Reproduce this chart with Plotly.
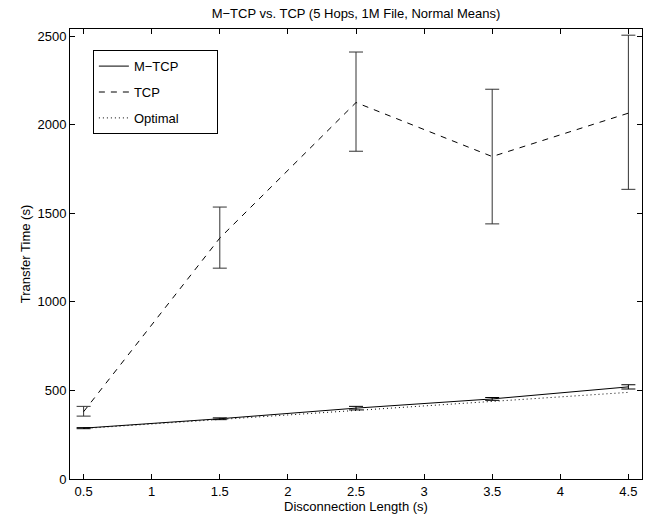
import plotly.graph_objects as go

x_vals = [0.5, 1.5, 2.5, 3.5, 4.5]
x_ticks = [0.5, 1, 1.5, 2, 2.5, 3, 3.5, 4, 4.5]
x_tick_labels = ["0.5", "1", "1.5", "2", "2.5", "3", "3.5", "4", "4.5"]
y_ticks = [0, 500, 1000, 1500, 2000, 2500]
series_names = ["M\u2212TCP", "TCP", "Optimal"]

mtcp = [287, 340, 400, 452, 520]
mtcp_err_up = [3, 5, 10, 8, 12]
mtcp_err_down = [3, 5, 10, 8, 12]

tcp = [380, 1360, 2125, 1820, 2065]
tcp_err_up = [30, 175, 285, 380, 440]
tcp_err_down = [25, 170, 275, 380, 430]

optimal = [285, 336, 387, 438, 489]

FONT = "Liberation Sans, Arial, Helvetica, sans-serif"
FS = 13
# invisible spacer that widens the legend box like the reference
PAD = "<span style='color:rgba(255,255,255,0)'>xxxxx</span>"

fig = go.Figure()
fig.add_trace(go.Scatter(
    x=x_vals, y=mtcp, mode="lines", name=series_names[0],
    line=dict(color="black", width=1, dash="solid"),
    error_y=dict(type="data", array=mtcp_err_up, arrayminus=mtcp_err_down,
                 color="black", thickness=1, width=7),
    legendgroup="a",
))
fig.add_trace(go.Scatter(
    x=x_vals, y=tcp, mode="lines", name=series_names[1],
    line=dict(color="black", width=1, dash="6px,6px"),
    error_y=dict(type="data", array=tcp_err_up, arrayminus=tcp_err_down,
                 color="#333333", thickness=1, width=7),
    legendgroup="b",
))
fig.add_trace(go.Scatter(
    x=x_vals, y=optimal, mode="lines", name=series_names[2] + PAD,
    line=dict(color="black", width=1, dash="1px,3px"),
    legendgroup="c",
))

axis_common = dict(
    showgrid=False, zeroline=False, showline=True, linecolor="black", linewidth=1,
    mirror="allticks", ticks="inside", ticklen=5, tickcolor="black", tickwidth=1,
    tickfont=dict(family=FONT, size=FS, color="black"),
)

fig.update_layout(
    width=653, height=523,
    margin=dict(l=70, r=11, t=29, b=44),
    paper_bgcolor="white", plot_bgcolor="white",
    title=dict(text="M\u2212TCP vs. TCP (5 Hops, 1M File, Normal Means)",
               x=0.5, xanchor="center", y=1 - 13 / 523, yanchor="middle",
               xref="paper",
               font=dict(family=FONT, size=FS, color="black")),
    xaxis=dict(range=[0.4, 4.6], tickvals=x_ticks, ticktext=x_tick_labels,
               title=dict(text="Disconnection Length (s)", standoff=1,
                          font=dict(family=FONT, size=FS, color="black")),
               **axis_common),
    yaxis=dict(range=[0, 2540], tickvals=y_ticks,
               title=dict(text="Transfer Time (s)", standoff=3,
                          font=dict(family=FONT, size=FS, color="black")),
               **axis_common),
    legend=dict(x=0.04, y=0.953, xanchor="left", yanchor="top",
                bordercolor="black", borderwidth=1, bgcolor="white",
                font=dict(family=FONT, size=FS, color="black"),
                traceorder="grouped", tracegroupgap=6),
    showlegend=True,
)

fig.write_html("out.html")
